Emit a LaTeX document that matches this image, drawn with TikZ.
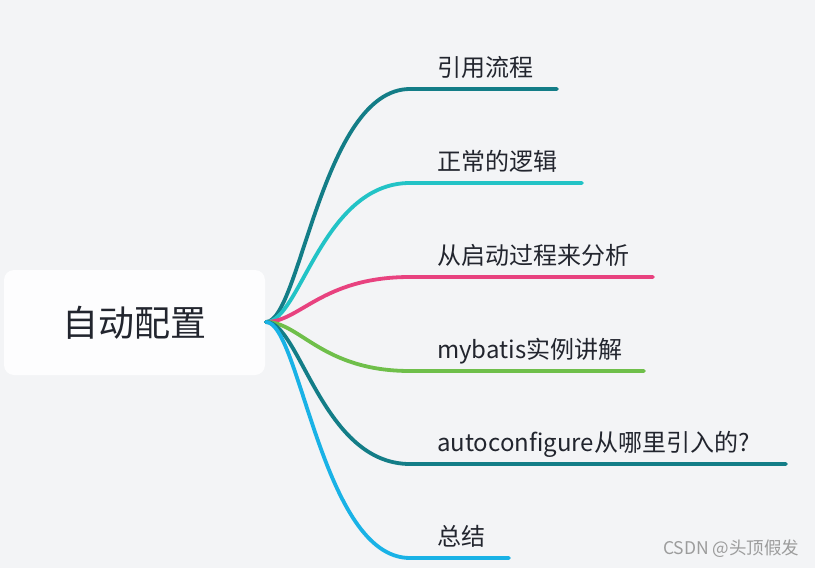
\documentclass[tikz,border=0pt]{standalone}
\usepackage{fontspec}
\setmainfont{Noto Sans CJK SC}
\definecolor{bgcol}{HTML}{F3F4F6}
\definecolor{boxcol}{HTML}{FDFDFE}
\definecolor{txtcol}{HTML}{22252E}
\definecolor{cteal}{HTML}{137D87}
\definecolor{ccyan}{HTML}{22C3C6}
\definecolor{cpink}{HTML}{E8427F}
\definecolor{cgreen}{HTML}{6FBF4A}
\definecolor{cblue}{HTML}{19B2E6}
\definecolor{wmcol}{HTML}{9C9C9C}
\tikzset{
  rootbox/.style={fill=boxcol, rounded corners=10pt, minimum width=261pt, minimum height=105pt, inner sep=0pt, text=txtcol, font=\fontsize{36}{40}\selectfont},
  branch/.style={line width=3.8pt, line cap=round},
  lbl/.style={anchor=base west, inner sep=0pt, text=txtcol, font=\fontsize{24}{27}\selectfont},
  wm/.style={anchor=base west, inner sep=0pt, text=wmcol, font=\fontsize{17.5}{19}\selectfont}
}
\begin{document}
\begin{tikzpicture}[x=1pt,y=-1pt]
\fill[bgcol] (0,0) rectangle (815,568);
\useasboundingbox (0,0) rectangle (815,568);
\node[rootbox] (root) at (134.5,322.5) {自动配置};
\coordinate (o) at (266,322);
% branch ends
\coordinate (s1) at (410,89);  \coordinate (e1) at (557,89);
\coordinate (s2) at (410,183); \coordinate (e2) at (582,183);
\coordinate (s3) at (410,277); \coordinate (e3) at (653,277);
\coordinate (s4) at (410,371); \coordinate (e4) at (644,371);
\coordinate (s5) at (410,464); \coordinate (e5) at (786,464);
\coordinate (s6) at (410,558); \coordinate (e6) at (509,558);
\draw[branch, cteal]  (o) .. controls (300,322) and (322,89)  .. (s1) -- (e1);
\draw[branch, ccyan]  (o) .. controls (300,322) and (322,183) .. (s2) -- (e2);
\draw[branch, cpink]  (o) .. controls (300,322) and (322,277) .. (s3) -- (e3);
\draw[branch, cgreen] (o) .. controls (300,322) and (322,371) .. (s4) -- (e4);
\draw[branch, cteal]  (o) .. controls (300,322) and (322,464) .. (s5) -- (e5);
\draw[branch, cblue]  (o) .. controls (300,322) and (322,558) .. (s6) -- (e6);
\node[lbl] (t1) at (437,76)  {引用流程};
\node[lbl] (t2) at (437,170) {正常的逻辑};
\node[lbl] (t3) at (437,264) {从启动过程来分析};
\node[lbl] (t4) at (437,358) {mybatis实例讲解};
\node[lbl] (t5) at (437,451) {autoconfigure从哪里引入的?};
\node[lbl] (t6) at (437,545) {总结};
\node[wm] (wm) at (663,554) {CSDN @头顶假发};
\end{tikzpicture}
\end{document}
